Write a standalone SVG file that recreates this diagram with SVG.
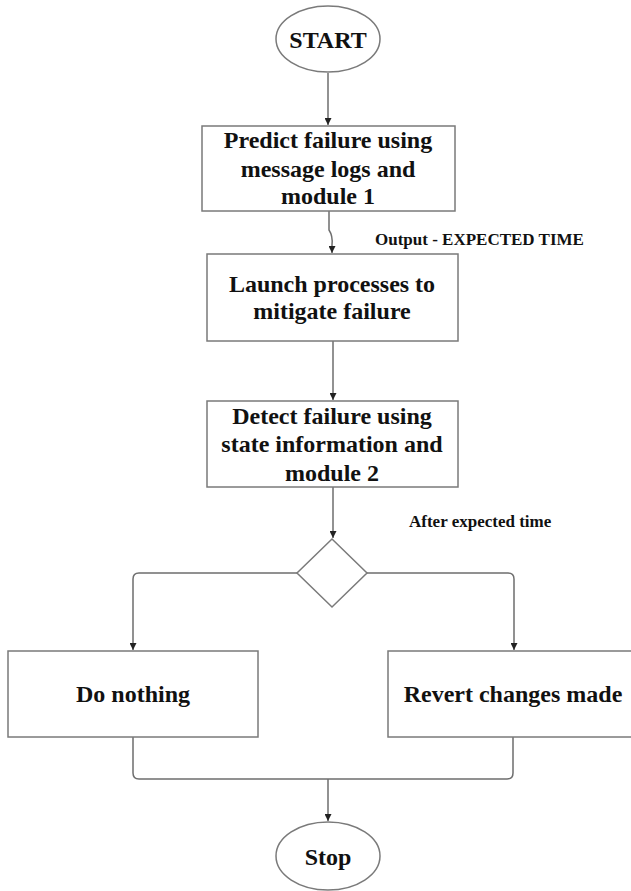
<svg xmlns="http://www.w3.org/2000/svg" width="631" height="891" viewBox="0 0 631 891">
<style>
.node{fill:#fff;stroke:#7a7a7a;stroke-width:1.5}
.t{font-family:"Liberation Serif","Times New Roman",serif;font-weight:bold;font-size:24px;fill:#111;text-anchor:middle}
.lbl{font-family:"Liberation Serif","Times New Roman",serif;font-weight:bold;font-size:17px;fill:#111}
.c{fill:none;stroke:#6e6e6e;stroke-width:1.5}
</style>
<defs>
<marker id="ah" viewBox="0 0 10 10" refX="10" refY="5" markerWidth="7" markerHeight="7" markerUnits="userSpaceOnUse" orient="auto">
<path d="M0,0 L10,5 L0,10 Z" fill="#222"/>
</marker>
</defs>
<rect width="631" height="891" fill="#fff"/>
<g id="connectors">
<path class="c" d="M328,73 L328,125" marker-end="url(#ah)"/>
<path class="c" d="M329,211 L329,230 Q333,236 332,245 L332,253" marker-end="url(#ah)"/>
<path class="c" d="M333,341 L333,400" marker-end="url(#ah)"/>
<path class="c" d="M333,487 L333,538" marker-end="url(#ah)"/>
<path class="c" d="M297,573 L139,573 Q133,573 133,579 L133,650" marker-end="url(#ah)"/>
<path class="c" d="M367,573 L508,573 Q514,573 514,579 L514,650" marker-end="url(#ah)"/>
<path class="c" d="M133,737 L133,773 Q133,779 139,779 L507,779 Q513,779 513,773 L513,737"/>
<path class="c" d="M328,779 L328,821" marker-end="url(#ah)"/>
</g>
<g id="start">
<ellipse class="node" cx="328" cy="39" rx="52" ry="33"/>
<text class="t" x="328" y="48">START</text>
</g>
<g id="predict">
<rect class="node" x="202" y="126" width="253" height="85"/>
<text class="t" x="328" y="148">Predict failure using</text>
<text class="t" x="328" y="177">message logs and</text>
<text class="t" x="328" y="204">module 1</text>
</g>
<g id="output-label">
<text class="lbl" x="375" y="245">Output - EXPECTED TIME</text>
</g>
<g id="launch">
<rect class="node" x="207" y="254" width="251" height="87"/>
<text class="t" x="332" y="292">Launch processes to</text>
<text class="t" x="332" y="319">mitigate failure</text>
</g>
<g id="detect">
<rect class="node" x="207" y="401" width="251" height="86"/>
<text class="t" x="332" y="424">Detect failure using</text>
<text class="t" x="332" y="452">state information and</text>
<text class="t" x="332" y="481">module 2</text>
</g>
<g id="after-label">
<text class="lbl" x="409" y="527">After expected time</text>
</g>
<g id="decision">
<polygon class="node" points="332,539 367,573 332,607 297,573"/>
</g>
<g id="do-nothing">
<rect class="node" x="8" y="651" width="250" height="86"/>
<text class="t" x="133" y="702">Do nothing</text>
</g>
<g id="revert">
<rect class="node" x="388" y="651" width="250" height="86"/>
<text class="t" x="513" y="702">Revert changes made</text>
</g>
<g id="stop">
<ellipse class="node" cx="328" cy="856" rx="52" ry="34"/>
<text class="t" x="328" y="865">Stop</text>
</g>
</svg>
